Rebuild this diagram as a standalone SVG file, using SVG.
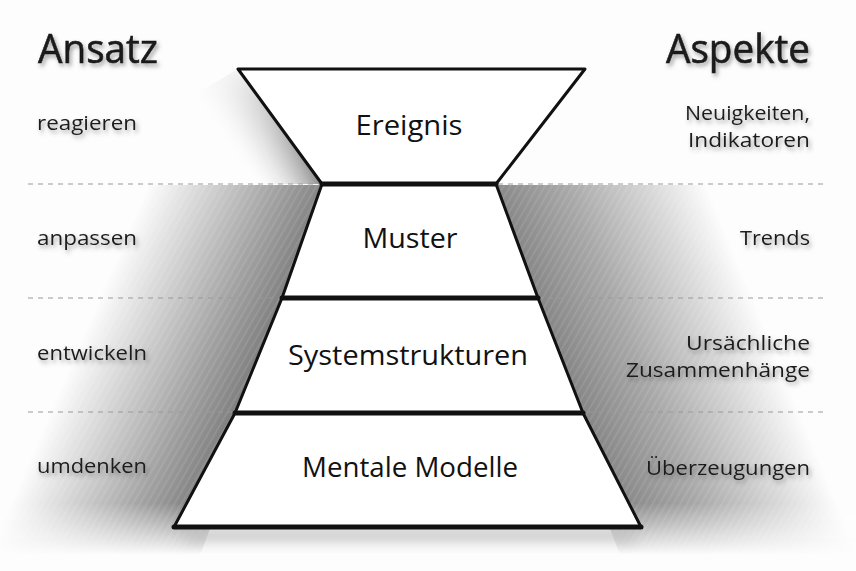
<svg xmlns="http://www.w3.org/2000/svg" width="856" height="571" viewBox="0 0 856 571">
<style>
.side{font-family:"Open Sans","Liberation Sans",sans-serif;font-size:20px;fill:#1a1a1a}
.head{font-family:"Open Sans","Liberation Sans",sans-serif;font-size:40px;fill:#1a1a1a;stroke:#1a1a1a;stroke-width:0.6}
.center{font-family:"Open Sans","Liberation Sans",sans-serif;font-size:27px;fill:#111;text-anchor:middle}
.box{fill:#fff;stroke:#111;stroke-width:3;stroke-linejoin:round}
.div{stroke:#111;stroke-width:5;stroke-linecap:round}
.guide{stroke:#9a9a9a;stroke-width:1.2;stroke-dasharray:5 5}
</style>
<defs>
<linearGradient id="gl" gradientUnits="userSpaceOnUse" x1="262" y1="355" x2="104" y2="287">
<stop offset="0" stop-color="#7e7e7e"/>
<stop offset="0.3" stop-color="#a2a2a2"/>
<stop offset="0.7" stop-color="#d6d6d6"/>
<stop offset="1" stop-color="#fdfdfd"/>
</linearGradient>
<linearGradient id="gr" gradientUnits="userSpaceOnUse" x1="560" y1="355" x2="745" y2="279">
<stop offset="0" stop-color="#878787"/>
<stop offset="0.35" stop-color="#a8a8a8"/>
<stop offset="0.75" stop-color="#dadada"/>
<stop offset="1" stop-color="#fdfdfd"/>
</linearGradient>
<linearGradient id="ge" gradientUnits="userSpaceOnUse" x1="285" y1="126" x2="238" y2="160">
<stop offset="0" stop-color="#7a7a7a"/>
<stop offset="1" stop-color="#fdfdfd" stop-opacity="0"/>
</linearGradient>
<linearGradient id="fadeTop" x1="0" y1="0" x2="0" y2="1">
<stop offset="0" stop-color="#000"/>
<stop offset="0.3" stop-color="#555"/>
<stop offset="1" stop-color="#fff"/>
</linearGradient>
<linearGradient id="fadeBot" x1="0" y1="0" x2="0" y2="1">
<stop offset="0" stop-color="#fff"/>
<stop offset="0.86" stop-color="#fff"/>
<stop offset="1" stop-color="#000"/>
</linearGradient>
<mask id="mE" maskUnits="userSpaceOnUse" x="180" y="60" width="160" height="125">
<rect x="180" y="60" width="160" height="124" fill="url(#fadeTop)"/>
</mask>
<mask id="mB" maskUnits="userSpaceOnUse" x="0" y="184" width="856" height="387">
<rect x="0" y="185" width="856" height="370" fill="url(#fadeBot)"/>
</mask>
<pattern id="hatch" width="6" height="6" patternUnits="userSpaceOnUse" patternTransform="rotate(-60)">
<line x1="0" y1="1" x2="6" y2="1" stroke="#fff" stroke-width="0.8" stroke-opacity="0.22"/>
</pattern>
<filter id="softB" x="-20%" y="-100%" width="140%" height="300%"><feGaussianBlur stdDeviation="7"/></filter>
<filter id="tshadow" x="-10%" y="-30%" width="130%" height="180%">
<feGaussianBlur in="SourceAlpha" stdDeviation="2"/>
<feOffset dx="2" dy="3" result="o"/>
<feFlood flood-color="#555" flood-opacity="0.55"/>
<feComposite in2="o" operator="in" result="s"/>
<feMerge><feMergeNode in="s"/><feMergeNode in="SourceGraphic"/></feMerge>
</filter>
</defs>
<rect width="856" height="571" fill="#fdfdfd"/>

<g id="shading">
<g mask="url(#mB)">
<polygon points="340,185 200,555 0,555 0,185" fill="url(#gl)"/>
<polygon points="480,185 620,555 856,555 856,185" fill="url(#gr)"/>
<polygon points="340,185 200,555 0,555 0,185" fill="url(#hatch)"/>
<polygon points="480,185 620,555 856,555 856,185" fill="url(#hatch)"/>
</g>
<g mask="url(#mE)">
<polygon points="238,69 325,184 225,184 185,100" fill="url(#ge)"/>
</g>
<rect x="185" y="529" width="450" height="12" fill="#c0c0c0" filter="url(#softB)"/>
</g>

<g id="connectors">
<line class="guide" x1="28" y1="184" x2="826" y2="184"/>
<line class="guide" x1="28" y1="298" x2="826" y2="298"/>
<line class="guide" x1="28" y1="412" x2="826" y2="412"/>
</g>

<g id="ereignis">
<polygon class="box" points="238,69 585,69 496,184 322,184"/>
<text class="center" x="409" y="135" textLength="107" lengthAdjust="spacingAndGlyphs">Ereignis</text>
</g>
<g id="muster">
<polygon class="box" points="322,184 496,184 538,298 282,298"/>
<text class="center" x="410" y="248" textLength="95" lengthAdjust="spacingAndGlyphs">Muster</text>
</g>
<g id="systemstrukturen">
<polygon class="box" points="282,298 538,298 583,413 235,413"/>
<text class="center" x="408" y="365" textLength="240" lengthAdjust="spacingAndGlyphs">Systemstrukturen</text>
</g>
<g id="mentale-modelle">
<polygon class="box" points="235,413 583,413 641,527 174,527"/>
<text class="center" x="410" y="477" textLength="216" lengthAdjust="spacingAndGlyphs">Mentale Modelle</text>
</g>
<g id="dividers">
<line class="div" x1="322" y1="184" x2="496" y2="184"/>
<line class="div" x1="282" y1="298" x2="538" y2="298"/>
<line class="div" x1="235" y1="413" x2="583" y2="413"/>
<line class="div" x1="174" y1="527" x2="641" y2="527" stroke-width="4"/>
</g>

<g id="ansatz" filter="url(#tshadow)">
<text class="head" x="38" y="63" textLength="120" lengthAdjust="spacingAndGlyphs">Ansatz</text>
</g>
<g id="aspekte" filter="url(#tshadow)">
<text class="head" x="810" y="63" text-anchor="end" textLength="144" lengthAdjust="spacingAndGlyphs">Aspekte</text>
</g>

<g id="reagieren" filter="url(#tshadow)"><text class="side" x="37" y="130" textLength="100" lengthAdjust="spacingAndGlyphs">reagieren</text></g>
<g id="anpassen" filter="url(#tshadow)"><text class="side" x="37" y="245" textLength="100" lengthAdjust="spacingAndGlyphs">anpassen</text></g>
<g id="entwickeln" filter="url(#tshadow)"><text class="side" x="37" y="360" textLength="110" lengthAdjust="spacingAndGlyphs">entwickeln</text></g>
<g id="umdenken" filter="url(#tshadow)"><text class="side" x="37" y="473" textLength="110" lengthAdjust="spacingAndGlyphs">umdenken</text></g>

<g id="neuigkeiten" filter="url(#tshadow)">
<text class="side" x="810" y="120" text-anchor="end" textLength="125" lengthAdjust="spacingAndGlyphs">Neuigkeiten,</text>
<text class="side" x="810" y="147" text-anchor="end" textLength="122" lengthAdjust="spacingAndGlyphs">Indikatoren</text>
</g>
<g id="trends" filter="url(#tshadow)"><text class="side" x="810" y="245" text-anchor="end" textLength="70" lengthAdjust="spacingAndGlyphs">Trends</text></g>
<g id="ursaechliche" filter="url(#tshadow)">
<text class="side" x="810" y="350" text-anchor="end" textLength="124" lengthAdjust="spacingAndGlyphs">Ursächliche</text>
<text class="side" x="810" y="377" text-anchor="end" textLength="184" lengthAdjust="spacingAndGlyphs">Zusammenhänge</text>
</g>
<g id="ueberzeugungen" filter="url(#tshadow)"><text class="side" x="810" y="475" text-anchor="end" textLength="164" lengthAdjust="spacingAndGlyphs">Überzeugungen</text></g>
</svg>
